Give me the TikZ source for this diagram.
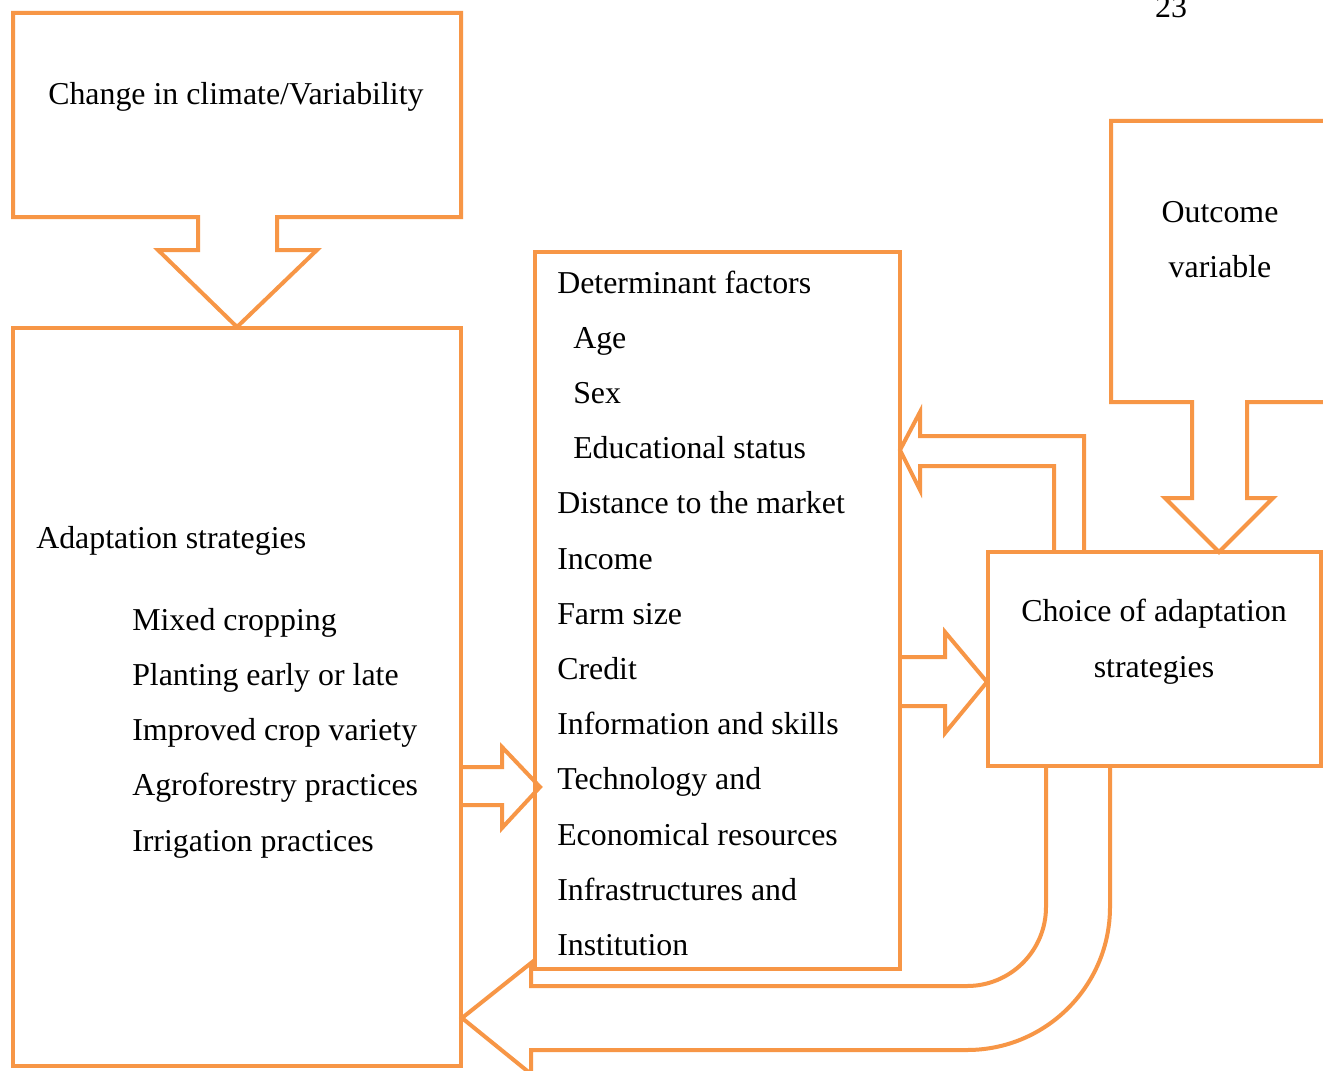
\documentclass[tikz,border=0pt]{standalone}
\usepackage{fontspec}
\setmainfont{Liberation Serif}
\definecolor{frameorange}{HTML}{F79646}
\begin{document}
\begin{tikzpicture}[x=0.75pt,y=-0.75pt,
  outl/.style={draw=frameorange,line width=3pt,line join=miter},
  txt/.style={inner sep=0pt,font=\fontsize{23.9}{28}\selectfont,text=black},
  lt/.style={txt,anchor=base west},
  ct/.style={txt,anchor=base}]
\clip (0,0) rectangle (1323,1070);
\fill[white] (0,0) rectangle (1323,1070);
% page number
\node[ct] (pg) at (1171,18) {23};
% Box 1 with down arrow
\draw[outl] (13,13) -- (461,13) -- (461,217) -- (277,217) -- (277,250) -- (317,250)
  -- (237,327) -- (158,250) -- (198,250) -- (198,217) -- (13,217) -- cycle;
\node[lt] (climate) at (48,105) {Change in climate/Variability};
% Box 2 adaptation strategies
\draw[outl] (13,328) rectangle (461,1066);
\node[lt] (adapt) at (36,548) {Adaptation strategies};
\foreach \t [count=\i from 0] in {Mixed cropping,Planting early or late,Improved crop variety,Agroforestry practices,Irrigation practices}
  \node[lt] (s\i) at (132,630+55.25*\i) {\t};
% Box 3 determinant factors
\draw[outl] (535,252) rectangle (900,969);
\node[lt] (det) at (557,293) {Determinant factors};
\node[lt] (d1) at (573,348.2) {Age};
\node[lt] (d2) at (573,403.4) {Sex};
\node[lt] (d3) at (573,458.6) {Educational status};
\foreach \t [count=\i from 4] in {Distance to the market,Income,Farm size,Credit,Information and skills,Technology and,Economical resources,Infrastructures and,Institution}
  \node[lt] (d\i) at (557,293+55.2*\i) {\t};
% Box 4 outcome variable with down arrow
\draw[outl] (1340,121) -- (1111,121) -- (1111,402) -- (1192,402) -- (1192,498) -- (1165,498)
  -- (1219,552) -- (1273,498) -- (1247,498) -- (1247,402) -- (1340,402);
\node[ct] (out1) at (1220,222) {Outcome};
\node[ct] (out2) at (1220,277) {variable};
% Box 5 choice
\draw[outl] (988,552) rectangle (1321,766);
\node[ct] (ch1) at (1154,621) {Choice of adaptation};
\node[ct] (ch2) at (1154,677) {strategies};
% Arrow box2 -> box3
\draw[outl] (461,767) -- (502,767) -- (502,747) -- (540,787) -- (502,828) -- (502,805) -- (461,805);
% Arrow box3 -> box5
\draw[outl] (900,657) -- (945,657) -- (945,632) -- (987,682) -- (945,733) -- (945,706) -- (900,706);
% Arrow box5 -> box3 (L-shaped)
\draw[outl] (1084,552) -- (1084,436) -- (920,436) -- (920,412) -- (900,450) -- (920,490)
  -- (920,466) -- (1054,466) -- (1054,552);
% Curved arrow box5 -> box2
\draw[outl] (1046,766) -- (1046,907) arc[start angle=0,end angle=90,x radius=79,y radius=79]
  -- (531,986) -- (531,963) -- (462,1018) -- (531,1074) -- (531,1050) -- (967,1050)
  arc[start angle=90,end angle=0,x radius=143,y radius=143] -- (1110,766);
\end{tikzpicture}
\end{document}
